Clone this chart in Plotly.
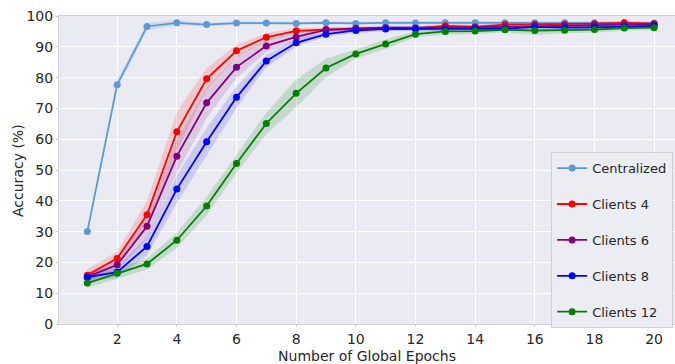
import plotly.graph_objects as go

epochs = list(range(1, 21))

centralized = [30.0, 77.7, 96.6, 97.8, 97.2, 97.7, 97.7, 97.6, 97.8, 97.6,
               97.8, 97.7, 97.8, 97.8, 97.8, 97.8, 97.8, 97.8, 97.8, 97.7]
centralized_sd = [0.8, 1.5, 1.2, 0.8, 0.6, 0.5, 0.5, 0.5, 0.5, 0.5,
                  0.5, 0.5, 0.5, 0.5, 0.5, 0.5, 0.5, 0.5, 0.5, 0.5]

clients4 = [15.8, 21.3, 35.5, 62.4, 79.6, 88.7, 93.1, 95.2, 95.6, 95.7,
            96.0, 96.0, 96.8, 96.5, 97.2, 97.3, 97.3, 97.5, 97.8, 97.5]
clients4_sd = [2.0, 2.2, 4.5, 6.5, 3.5, 2.0, 1.3, 0.9, 0.7, 0.7,
               0.6, 0.6, 0.6, 0.6, 0.6, 0.6, 0.6, 0.6, 0.6, 0.6]

clients6 = [15.3, 19.2, 31.7, 54.5, 71.8, 83.4, 90.3, 93.2, 95.5, 96.0,
            96.2, 96.1, 96.2, 96.3, 96.5, 96.8, 96.8, 97.0, 97.2, 97.3]
clients6_sd = [1.5, 2.0, 4.0, 5.5, 5.0, 3.5, 2.0, 1.3, 0.8, 0.7,
               0.7, 0.7, 0.7, 0.7, 0.7, 0.7, 0.7, 0.7, 0.7, 0.7]

clients8 = [15.2, 16.8, 25.2, 43.8, 59.2, 73.6, 85.4, 91.3, 94.1, 95.3,
            95.8, 95.8, 95.6, 95.8, 95.8, 96.5, 96.2, 96.3, 96.5, 96.8]
clients8_sd = [1.5, 1.8, 3.0, 4.5, 4.5, 3.5, 2.0, 1.2, 0.8, 0.8,
               0.7, 0.7, 0.7, 0.7, 0.7, 0.7, 0.7, 0.7, 0.7, 0.7]

clients12 = [13.3, 16.5, 19.5, 27.2, 38.3, 52.1, 65.1, 74.9, 83.1, 87.7,
             90.9, 94.1, 95.0, 95.1, 95.5, 95.3, 95.4, 95.6, 96.1, 96.2]
clients12_sd = [1.5, 1.8, 1.8, 2.5, 3.0, 3.0, 3.5, 4.5, 3.0, 1.5,
                1.5, 1.0, 1.0, 1.0, 0.8, 1.5, 1.0, 1.0, 0.8, 0.8]

series_names = ["Centralized", "Clients 4", "Clients 6", "Clients 8", "Clients 12"]
series_vals = [centralized, clients4, clients6, clients8, clients12]
series_sd = [centralized_sd, clients4_sd, clients6_sd, clients8_sd, clients12_sd]
colors = ["#5b9bd5", "#ff0000", "#800080", "#0000ff", "#008000"]
fills = ["rgba(91,155,213,0.2)", "rgba(255,0,0,0.14)", "rgba(128,0,128,0.14)",
         "rgba(0,0,255,0.14)", "rgba(0,128,0,0.16)"]

x_ticks = [2, 4, 6, 8, 10, 12, 14, 16, 18, 20]
y_ticks = [0, 10, 20, 30, 40, 50, 60, 70, 80, 90, 100]

fig = go.Figure()
for name, vals, sd, c, f in zip(series_names, series_vals, series_sd, colors, fills):
    upper = [v + s for v, s in zip(vals, sd)]
    lower = [v - s for v, s in zip(vals, sd)]
    fig.add_trace(go.Scatter(x=epochs + epochs[::-1], y=upper + lower[::-1],
                             fill="toself", fillcolor=f, line=dict(width=0),
                             mode="lines", showlegend=False, hoverinfo="skip",
                             legendgroup=name))
for name, vals, c in zip(series_names, series_vals, colors):
    fig.add_trace(go.Scatter(x=epochs, y=vals, mode="lines+markers", name=name,
                             line=dict(color=c, width=1.8),
                             marker=dict(color=c, size=7),
                             legendgroup=name))

fig.update_layout(
    width=675, height=364,
    margin=dict(l=59, r=0, t=16, b=40, autoexpand=False),
    paper_bgcolor="white",
    plot_bgcolor="#eaeaf2",
    font=dict(family="DejaVu Sans", size=14, color="#262626"),
    legend=dict(x=0.997, xanchor="right", y=0.558, yanchor="top",
                bgcolor="rgba(236,236,243,0.9)", bordercolor="#d0d0d0", borderwidth=1,
                font=dict(size=13, color="#262626"), tracegroupgap=16,
                itemwidth=30),
    xaxis=dict(range=[0.05, 20.7], tickvals=x_ticks, showgrid=True,
               gridcolor="white", gridwidth=1.3, zeroline=False,
               ticks="outside", ticklen=2, tickcolor="#c8c8c8",
               showline=True, linecolor="#d0d0d0", mirror=True, automargin=False,
               title=dict(text="Number of Global Epochs", standoff=5,
                          font=dict(size=14))),
    yaxis=dict(range=[0, 100], tickvals=y_ticks, showgrid=True,
               gridcolor="white", gridwidth=1.3, zeroline=False,
               ticks="outside", ticklen=2, tickcolor="#c8c8c8",
               showline=True, linecolor="#d0d0d0", mirror=True, automargin=False),
    annotations=[dict(text="Accuracy (%)", xref="paper", yref="paper",
                      x=-0.0666, y=0.5, xanchor="center", yanchor="middle",
                      textangle=-90, showarrow=False,
                      font=dict(size=14, color="#262626"))],
)

fig.write_html("out.html", config={"displayModeBar": False},
               post_script="document.body.style.margin='0';document.body.style.overflow='hidden';")
